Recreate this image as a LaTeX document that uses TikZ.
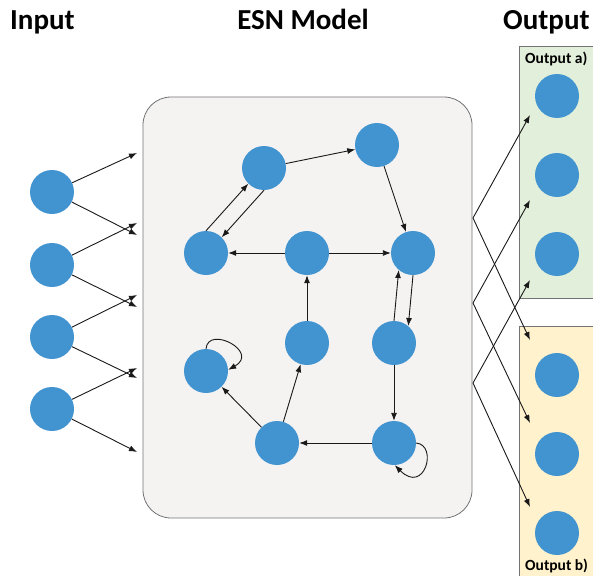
\documentclass[tikz,border=0pt]{standalone}
\usepackage{fontspec}
\setmainfont{Carlito}
\usetikzlibrary{arrows.meta}
\definecolor{neuronblue}{RGB}{65,148,208}
\definecolor{esnbg}{RGB}{245,242,242}
\definecolor{outgreen}{RGB}{226,239,218}
\definecolor{outyellow}{RGB}{255,242,204}

\begin{document}
\begin{tikzpicture}[
		x=1pt, y=-1pt,
		neuron/.style={circle, fill=neuronblue, minimum size=44pt, inner sep=0pt},
		conn/.style={-{Latex[length=8pt,width=6pt]}, line width=0.9pt, draw=black!90},
		title/.style={font=\fontsize{29}{34}\selectfont\bfseries, inner sep=0pt},
		sublabel/.style={font=\fontsize{15.5}{17}\selectfont\bfseries, inner sep=0pt, anchor=base west},
		panel/.style={draw=black!55, line width=0.8pt}
		]
		\useasboundingbox (0,0) rectangle (593,575);
		\node[title, anchor=base west] (tin) at (10,30) {Input};
		\node[title, anchor=base] (tesn) at (303,30) {ESN Model};
		\node[title, anchor=base west] (tout) at (503,30) {Output};
		\draw[panel, fill=esnbg, rounded corners=28pt] (143,97) rectangle (472,518);
		\draw[panel, fill=outgreen] (519,46) rectangle (600,298);
		\draw[panel, fill=outyellow] (519,326) rectangle (600,590);
		\node[sublabel] (la) at (525,64) {Output a)};
		\node[sublabel] (lb) at (525,570) {Output b)};
		\node[neuron] (in1) at (52,192) {};
		\node[neuron] (in2) at (52,265) {};
		\node[neuron] (in3) at (52,337) {};
		\node[neuron] (in4) at (52,409) {};
		\node[neuron] (ra) at (264,168) {};
		\node[neuron] (rb) at (377,145) {};
		\node[neuron] (rc) at (206,253) {};
		\node[neuron] (rd) at (307,253) {};
		\node[neuron] (re) at (413,253) {};
		\node[neuron] (rf) at (206,371) {};
		\node[neuron] (rg) at (307,343) {};
		\node[neuron] (rh) at (394,343) {};
		\node[neuron] (ri) at (277,443) {};
		\node[neuron] (rj) at (394,443) {};
		\node[neuron] (oa1) at (557,96) {};
		\node[neuron] (oa2) at (557,175) {};
		\node[neuron] (oa3) at (557,254) {};
		\node[neuron] (ob1) at (557,375) {};
		\node[neuron] (ob2) at (557,454) {};
		\node[neuron] (ob3) at (557,533) {};
		\coordinate (i1u) at (137,153);
		\coordinate (i1d) at (137,235);
		\coordinate (i2u) at (137,223);
		\coordinate (i2d) at (137,307);
		\coordinate (i3u) at (137,295);
		\coordinate (i3d) at (137,378);
		\coordinate (i4u) at (137,368);
		\coordinate (i4d) at (137,452);
		\coordinate (p1) at (473,218);
		\coordinate (p2) at (473,303);
		\coordinate (p3) at (473,383);
		\coordinate (ta1) at (530,115);
		\coordinate (ta2) at (530,200);
		\coordinate (ta3) at (530,280);
		\coordinate (tb1) at (530,340);
		\coordinate (tb2) at (530,423);
		\coordinate (tb3) at (530,507);
		\draw[conn] (in1) -- (i1u);
		\draw[conn] (in1) -- (i1d);
		\draw[conn] (in2) -- (i2u);
		\draw[conn] (in2) -- (i2d);
		\draw[conn] (in3) -- (i3u);
		\draw[conn] (in3) -- (i3d);
		\draw[conn] (in4) -- (i4u);
		\draw[conn] (in4) -- (i4d);
		\draw[conn] (ra) -- (rb);
		\draw[conn] (rb) -- (re);
		\draw[conn] (rc.90) -- (ra.225);
		\draw[conn] (ra.270) -- (rc.45);
		\draw[conn] (rd) -- (rc);
		\draw[conn] (rd) -- (re);
		\draw[conn] (rg) -- (rd);
		\draw[conn] (rh.north) -- (re.230);
		\draw[conn] (re.south) -- (rh.50);
		\draw[conn] (rh) -- (rj);
		\draw[conn] (rj) -- (ri);
		\draw[conn] (ri) -- (rf);
		\draw[conn] (ri) -- (rg);
		\draw[conn] (rf.north) .. controls +(2,-24) and +(32,-18) .. (rf.3);
		\draw[conn] (rj.east) .. controls +(22,2) and +(30,30) .. (rj.272);
		\draw[conn] (p1) -- (ta1);
		\draw[conn] (p1) -- (tb1);
		\draw[conn] (p2) -- (ta2);
		\draw[conn] (p2) -- (tb2);
		\draw[conn] (p3) -- (ta3);
		\draw[conn] (p3) -- (tb3);
	\end{tikzpicture}
\end{document}
